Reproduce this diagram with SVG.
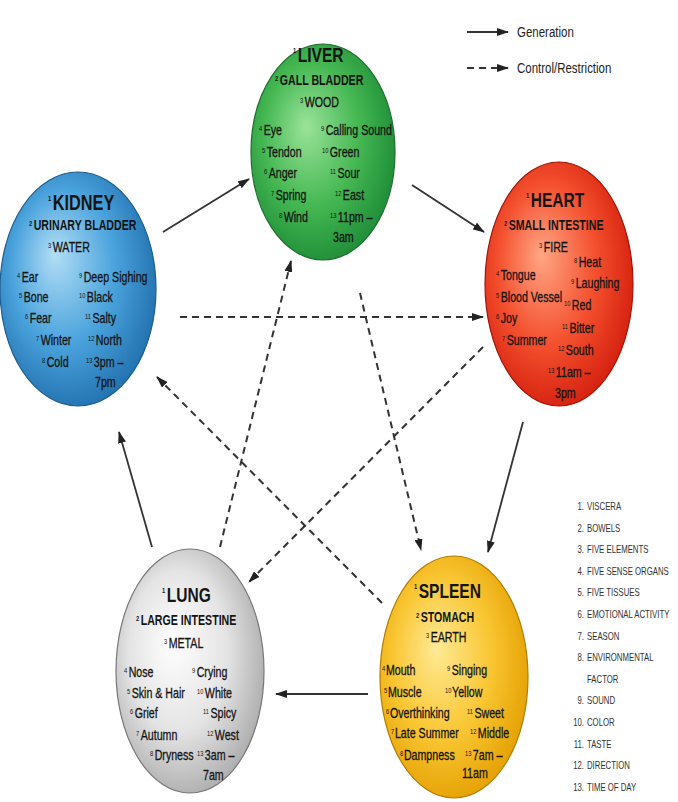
<svg xmlns="http://www.w3.org/2000/svg" width="678" height="802" viewBox="0 0 678 802">
<style>
text{font-family:"Liberation Sans",Arial,sans-serif;fill:#151515;transform-box:fill-box;transform-origin:0 0;transform:scaleX(0.76)}
.t{font-size:20.5px;font-weight:bold}
.s{font-size:14px;font-weight:bold}
.r{font-size:14px;stroke:#151515;stroke-width:0.3}
.n{font-size:7.5px;stroke-width:0}
.lg{font-size:14px;fill:#222;transform:scaleX(0.82)}
.k{font-size:10px;fill:#333;transform:scaleX(0.78)}
.ke{text-anchor:end;transform-origin:100% 0}
.sol{stroke:#333;stroke-width:1.8;fill:none}
.dsh{stroke:#333;stroke-width:2;fill:none;stroke-dasharray:7 5}
</style>
<defs>
<marker id="ah" markerUnits="userSpaceOnUse" markerWidth="12" markerHeight="8" refX="11" refY="4" orient="auto">
<path d="M0,0 L12,4 L0,8 Z" fill="#222"/>
</marker>
<radialGradient id="gG" cx="45%" cy="45%" r="60%" fx="38%" fy="38%">
<stop offset="0" stop-color="#9be39a"/><stop offset="0.55" stop-color="#45b852"/><stop offset="1" stop-color="#1c8a36"/>
</radialGradient>
<radialGradient id="gB" cx="45%" cy="45%" r="60%" fx="35%" fy="35%">
<stop offset="0" stop-color="#b2def6"/><stop offset="0.55" stop-color="#4aa3dc"/><stop offset="1" stop-color="#1f6eac"/>
</radialGradient>
<radialGradient id="gR" cx="45%" cy="45%" r="60%" fx="38%" fy="38%">
<stop offset="0" stop-color="#ffa684"/><stop offset="0.55" stop-color="#f4502e"/><stop offset="1" stop-color="#d21d0c"/>
</radialGradient>
<radialGradient id="gW" cx="45%" cy="45%" r="60%" fx="38%" fy="38%">
<stop offset="0" stop-color="#ffffff"/><stop offset="0.55" stop-color="#e4e4e4"/><stop offset="1" stop-color="#a9a9a9"/>
</radialGradient>
<radialGradient id="gY" cx="45%" cy="45%" r="60%" fx="38%" fy="38%">
<stop offset="0" stop-color="#ffea96"/><stop offset="0.55" stop-color="#f9c632"/><stop offset="1" stop-color="#e39e00"/>
</radialGradient>
</defs>
<rect width="678" height="802" fill="#ffffff"/>

<g id="connectors">
<path class="sol" d="M163,232 L249,179" marker-end="url(#ah)"/>
<path class="sol" d="M412,185 L484,232" marker-end="url(#ah)"/>
<path class="sol" d="M523,422 L488,552" marker-end="url(#ah)"/>
<path class="sol" d="M368,694 L276,694" marker-end="url(#ah)"/>
<path class="sol" d="M152,547 L119,432" marker-end="url(#ah)"/>
<path class="dsh" d="M180,317 L483,317" marker-end="url(#ah)"/>
<path class="dsh" d="M360,293 L421,550" marker-end="url(#ah)"/>
<path class="dsh" d="M483,347 L249,582" marker-end="url(#ah)"/>
<path class="dsh" d="M382,603 L157,377" marker-end="url(#ah)"/>
<path class="dsh" d="M220,547 L291,261" marker-end="url(#ah)"/>
</g>

<g id="legend">
<path class="sol" d="M467,32 L508,32" stroke-width="2.5" marker-end="url(#ah)"/>
<path class="dsh" d="M467,68 L508,68" stroke-width="2.5" marker-end="url(#ah)"/>
<text class="lg" x="517" y="37">Generation</text>
<text class="lg" x="517" y="73">Control/Restriction</text>
</g>

<g id="liver">
<ellipse cx="323" cy="152" rx="72" ry="108" fill="url(#gG)" stroke="#1b6e2c" stroke-width="1.2"/>
<text x="293" y="62" class="t"><tspan class="n" dy="-9">1</tspan><tspan dx="2" dy="9">LIVER</tspan></text>
<text x="275" y="85" class="s"><tspan class="n" dy="-4">2</tspan><tspan dx="2" dy="4">GALL BLADDER</tspan></text>
<text x="300" y="107" class="r"><tspan class="n" dy="-4">3</tspan><tspan dx="2" dy="4">WOOD</tspan></text>
<text x="259" y="135" class="r"><tspan class="n" dy="-4">4</tspan><tspan dx="2" dy="4">Eye</tspan></text>
<text x="262" y="157" class="r"><tspan class="n" dy="-4">5</tspan><tspan dx="2" dy="4">Tendon</tspan></text>
<text x="264" y="178" class="r"><tspan class="n" dy="-4">6</tspan><tspan dx="2" dy="4">Anger</tspan></text>
<text x="271" y="200" class="r"><tspan class="n" dy="-4">7</tspan><tspan dx="2" dy="4">Spring</tspan></text>
<text x="279" y="222" class="r"><tspan class="n" dy="-4">8</tspan><tspan dx="2" dy="4">Wind</tspan></text>
<text x="321" y="135" class="r"><tspan class="n" dy="-4">9</tspan><tspan dx="2" dy="4">Calling Sound</tspan></text>
<text x="322" y="157" class="r"><tspan class="n" dy="-4">10</tspan><tspan dx="2" dy="4">Green</tspan></text>
<text x="330" y="178" class="r"><tspan class="n" dy="-4">11</tspan><tspan dx="2" dy="4">Sour</tspan></text>
<text x="335" y="200" class="r"><tspan class="n" dy="-4">12</tspan><tspan dx="2" dy="4">East</tspan></text>
<text x="330" y="222" class="r"><tspan class="n" dy="-4">13</tspan><tspan dx="2" dy="4">11pm –</tspan></text>
<text x="333" y="242" class="r">3am</text>
</g>

<g id="kidney">
<ellipse cx="78" cy="289" rx="78" ry="117" fill="url(#gB)" stroke="#1b5d8f" stroke-width="1.2"/>
<text x="48" y="210" class="t" style="font-size:21.5px"><tspan class="n" dy="-9">1</tspan><tspan dx="2" dy="9">KIDNEY</tspan></text>
<text x="29" y="230" class="s"><tspan class="n" dy="-4">2</tspan><tspan dx="2" dy="4">URINARY BLADDER</tspan></text>
<text x="48" y="252" class="r"><tspan class="n" dy="-4">3</tspan><tspan dx="2" dy="4">WATER</tspan></text>
<text x="17" y="282" class="r"><tspan class="n" dy="-4">4</tspan><tspan dx="2" dy="4">Ear</tspan></text>
<text x="19" y="302" class="r"><tspan class="n" dy="-4">5</tspan><tspan dx="2" dy="4">Bone</tspan></text>
<text x="25" y="323" class="r"><tspan class="n" dy="-4">6</tspan><tspan dx="2" dy="4">Fear</tspan></text>
<text x="36" y="345" class="r"><tspan class="n" dy="-4">7</tspan><tspan dx="2" dy="4">Winter</tspan></text>
<text x="42" y="367" class="r"><tspan class="n" dy="-4">8</tspan><tspan dx="2" dy="4">Cold</tspan></text>
<text x="79" y="282" class="r"><tspan class="n" dy="-4">9</tspan><tspan dx="2" dy="4">Deep Sighing</tspan></text>
<text x="79" y="302" class="r"><tspan class="n" dy="-4">10</tspan><tspan dx="2" dy="4">Black</tspan></text>
<text x="85" y="323" class="r"><tspan class="n" dy="-4">11</tspan><tspan dx="2" dy="4">Salty</tspan></text>
<text x="88" y="345" class="r"><tspan class="n" dy="-4">12</tspan><tspan dx="2" dy="4">North</tspan></text>
<text x="86" y="367" class="r"><tspan class="n" dy="-4">13</tspan><tspan dx="2" dy="4">3pm –</tspan></text>
<text x="95" y="387" class="r">7pm</text>
</g>

<g id="heart">
<ellipse cx="559" cy="284" rx="74" ry="122" fill="url(#gR)" stroke="#a01508" stroke-width="1.2"/>
<text x="526" y="207" class="t"><tspan class="n" dy="-9">1</tspan><tspan dx="2" dy="9">HEART</tspan></text>
<text x="504" y="230" class="s"><tspan class="n" dy="-4">2</tspan><tspan dx="2" dy="4">SMALL INTESTINE</tspan></text>
<text x="539" y="252" class="r"><tspan class="n" dy="-4">3</tspan><tspan dx="2" dy="4">FIRE</tspan></text>
<text x="574" y="267" class="r"><tspan class="n" dy="-4">8</tspan><tspan dx="2" dy="4">Heat</tspan></text>
<text x="496" y="280" class="r"><tspan class="n" dy="-4">4</tspan><tspan dx="2" dy="4">Tongue</tspan></text>
<text x="571" y="288" class="r"><tspan class="n" dy="-4">9</tspan><tspan dx="2" dy="4">Laughing</tspan></text>
<text x="496" y="302" class="r"><tspan class="n" dy="-4">5</tspan><tspan dx="2" dy="4">Blood Vessel</tspan></text>
<text x="564" y="310" class="r"><tspan class="n" dy="-4">10</tspan><tspan dx="2" dy="4">Red</tspan></text>
<text x="496" y="323" class="r"><tspan class="n" dy="-4">6</tspan><tspan dx="2" dy="4">Joy</tspan></text>
<text x="562" y="333" class="r"><tspan class="n" dy="-4">11</tspan><tspan dx="2" dy="4">Bitter</tspan></text>
<text x="502" y="345" class="r"><tspan class="n" dy="-4">7</tspan><tspan dx="2" dy="4">Summer</tspan></text>
<text x="558" y="355" class="r"><tspan class="n" dy="-4">12</tspan><tspan dx="2" dy="4">South</tspan></text>
<text x="548" y="377" class="r"><tspan class="n" dy="-4">13</tspan><tspan dx="2" dy="4">11am –</tspan></text>
<text x="555" y="398" class="r">3pm</text>
</g>

<g id="lung">
<ellipse cx="190" cy="671" rx="74" ry="122" fill="url(#gW)" stroke="#777" stroke-width="1.2"/>
<text x="162" y="602" class="t"><tspan class="n" dy="-9">1</tspan><tspan dx="2" dy="9">LUNG</tspan></text>
<text x="136" y="625" class="s"><tspan class="n" dy="-4">2</tspan><tspan dx="2" dy="4">LARGE INTESTINE</tspan></text>
<text x="164" y="648" class="r"><tspan class="n" dy="-4">3</tspan><tspan dx="2" dy="4">METAL</tspan></text>
<text x="124" y="677" class="r"><tspan class="n" dy="-4">4</tspan><tspan dx="2" dy="4">Nose</tspan></text>
<text x="127" y="698" class="r"><tspan class="n" dy="-4">5</tspan><tspan dx="2" dy="4">Skin &amp; Hair</tspan></text>
<text x="130" y="718" class="r"><tspan class="n" dy="-4">6</tspan><tspan dx="2" dy="4">Grief</tspan></text>
<text x="136" y="740" class="r"><tspan class="n" dy="-4">7</tspan><tspan dx="2" dy="4">Autumn</tspan></text>
<text x="150" y="760" class="r"><tspan class="n" dy="-4">8</tspan><tspan dx="2" dy="4">Dryness</tspan></text>
<text x="192" y="677" class="r"><tspan class="n" dy="-4">9</tspan><tspan dx="2" dy="4">Crying</tspan></text>
<text x="197" y="698" class="r"><tspan class="n" dy="-4">10</tspan><tspan dx="2" dy="4">White</tspan></text>
<text x="203" y="718" class="r"><tspan class="n" dy="-4">11</tspan><tspan dx="2" dy="4">Spicy</tspan></text>
<text x="207" y="740" class="r"><tspan class="n" dy="-4">12</tspan><tspan dx="2" dy="4">West</tspan></text>
<text x="197" y="760" class="r"><tspan class="n" dy="-4">13</tspan><tspan dx="2" dy="4">3am –</tspan></text>
<text x="203" y="780" class="r">7am</text>
</g>

<g id="spleen">
<ellipse cx="454" cy="677" rx="74" ry="121" fill="url(#gY)" stroke="#b07d00" stroke-width="1.2"/>
<text x="414" y="598" class="t"><tspan class="n" dy="-9">1</tspan><tspan dx="2" dy="9">SPLEEN</tspan></text>
<text x="416" y="622" class="s"><tspan class="n" dy="-4">2</tspan><tspan dx="2" dy="4">STOMACH</tspan></text>
<text x="426" y="642" class="r"><tspan class="n" dy="-4">3</tspan><tspan dx="2" dy="4">EARTH</tspan></text>
<text x="382" y="675" class="r"><tspan class="n" dy="-4">4</tspan><tspan dx="1" dy="4">Mouth</tspan></text>
<text x="384" y="697" class="r"><tspan class="n" dy="-4">5</tspan><tspan dx="1" dy="4">Muscle</tspan></text>
<text x="386" y="718" class="r"><tspan class="n" dy="-4">6</tspan><tspan dx="1" dy="4">Overthinking</tspan></text>
<text x="391" y="738" class="r"><tspan class="n" dy="-4">7</tspan><tspan dx="1" dy="4">Late Summer</tspan></text>
<text x="400" y="760" class="r"><tspan class="n" dy="-4">8</tspan><tspan dx="1" dy="4">Dampness</tspan></text>
<text x="447" y="675" class="r"><tspan class="n" dy="-4">9</tspan><tspan dx="2" dy="4">Singing</tspan></text>
<text x="445" y="697" class="r"><tspan class="n" dy="-4">10</tspan><tspan dx="1" dy="4">Yellow</tspan></text>
<text x="467" y="718" class="r"><tspan class="n" dy="-4">11</tspan><tspan dx="2" dy="4">Sweet</tspan></text>
<text x="470" y="738" class="r"><tspan class="n" dy="-4">12</tspan><tspan dx="2" dy="4">Middle</tspan></text>
<text x="465" y="760" class="r"><tspan class="n" dy="-4">13</tspan><tspan dx="2" dy="4">7am –</tspan></text>
<text x="462" y="778" class="r">11am</text>
</g>

<g id="key">
<text class="k ke" x="584" y="510">1.</text><text class="k" x="587" y="510">VISCERA</text>
<text class="k ke" x="584" y="531.6">2.</text><text class="k" x="587" y="531.6">BOWELS</text>
<text class="k ke" x="584" y="553.2">3.</text><text class="k" x="587" y="553.2">FIVE ELEMENTS</text>
<text class="k ke" x="584" y="574.8">4.</text><text class="k" x="587" y="574.8">FIVE SENSE ORGANS</text>
<text class="k ke" x="584" y="596.4">5.</text><text class="k" x="587" y="596.4">FIVE TISSUES</text>
<text class="k ke" x="584" y="618">6.</text><text class="k" x="587" y="618">EMOTIONAL ACTIVITY</text>
<text class="k ke" x="584" y="639.6">7.</text><text class="k" x="587" y="639.6">SEASON</text>
<text class="k ke" x="584" y="661.2">8.</text><text class="k" x="587" y="661.2">ENVIRONMENTAL</text>
<text class="k" x="587" y="682.8">FACTOR</text>
<text class="k ke" x="584" y="704.4">9.</text><text class="k" x="587" y="704.4">SOUND</text>
<text class="k ke" x="584" y="726">10.</text><text class="k" x="587" y="726">COLOR</text>
<text class="k ke" x="584" y="747.6">11.</text><text class="k" x="587" y="747.6">TASTE</text>
<text class="k ke" x="584" y="769.2">12.</text><text class="k" x="587" y="769.2">DIRECTION</text>
<text class="k ke" x="584" y="790.8">13.</text><text class="k" x="587" y="790.8">TIME OF DAY</text>
</g>
</svg>
